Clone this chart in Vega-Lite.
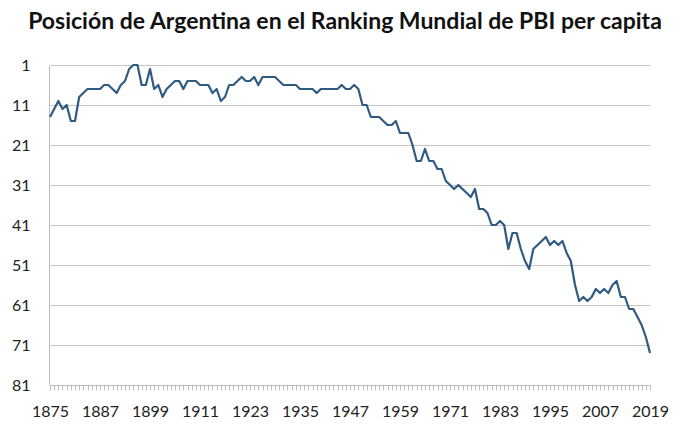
{
  "$schema": "https://vega.github.io/schema/vega-lite/v6.json",
  "autosize": {"type": "none"},
  "width": 602,
  "height": 320,
  "padding": {"left": 49, "top": 65, "right": 38, "bottom": 50},
  "background": "white",
  "title": {
    "text": "Posición de Argentina en el Ranking Mundial de PBI per capita",
    "font": "Lato",
    "fontSize": 23,
    "fontWeight": "bold",
    "color": "#111111",
    "anchor": "middle",
    "frame": "group",
    "offset": 23,
    "dx": -5
  },
  "config": {
    "view": {"stroke": null},
    "axis": {"labelFont": "Lato", "labelFontSize": 16, "labelColor": "#222222"}
  },
  "data": {
    "values": [
      {"year": 1875, "rank": 14}, {"year": 1876, "rank": 12}, {"year": 1877, "rank": 10}, {"year": 1878, "rank": 12},
      {"year": 1879, "rank": 11}, {"year": 1880, "rank": 15}, {"year": 1881, "rank": 15}, {"year": 1882, "rank": 9},
      {"year": 1883, "rank": 8}, {"year": 1884, "rank": 7}, {"year": 1885, "rank": 7}, {"year": 1886, "rank": 7},
      {"year": 1887, "rank": 7}, {"year": 1888, "rank": 6}, {"year": 1889, "rank": 6}, {"year": 1890, "rank": 7},
      {"year": 1891, "rank": 8}, {"year": 1892, "rank": 6}, {"year": 1893, "rank": 5}, {"year": 1894, "rank": 2},
      {"year": 1895, "rank": 1}, {"year": 1896, "rank": 1}, {"year": 1897, "rank": 6}, {"year": 1898, "rank": 6},
      {"year": 1899, "rank": 2}, {"year": 1900, "rank": 7}, {"year": 1901, "rank": 6}, {"year": 1902, "rank": 9},
      {"year": 1903, "rank": 7}, {"year": 1904, "rank": 6}, {"year": 1905, "rank": 5}, {"year": 1906, "rank": 5},
      {"year": 1907, "rank": 7}, {"year": 1908, "rank": 5}, {"year": 1909, "rank": 5}, {"year": 1910, "rank": 5},
      {"year": 1911, "rank": 6}, {"year": 1912, "rank": 6}, {"year": 1913, "rank": 6}, {"year": 1914, "rank": 8},
      {"year": 1915, "rank": 7}, {"year": 1916, "rank": 10}, {"year": 1917, "rank": 9}, {"year": 1918, "rank": 6},
      {"year": 1919, "rank": 6}, {"year": 1920, "rank": 5}, {"year": 1921, "rank": 4}, {"year": 1922, "rank": 5},
      {"year": 1923, "rank": 5}, {"year": 1924, "rank": 4}, {"year": 1925, "rank": 6}, {"year": 1926, "rank": 4},
      {"year": 1927, "rank": 4}, {"year": 1928, "rank": 4}, {"year": 1929, "rank": 4}, {"year": 1930, "rank": 5},
      {"year": 1931, "rank": 6}, {"year": 1932, "rank": 6}, {"year": 1933, "rank": 6}, {"year": 1934, "rank": 6},
      {"year": 1935, "rank": 7}, {"year": 1936, "rank": 7}, {"year": 1937, "rank": 7}, {"year": 1938, "rank": 7},
      {"year": 1939, "rank": 8}, {"year": 1940, "rank": 7}, {"year": 1941, "rank": 7}, {"year": 1942, "rank": 7},
      {"year": 1943, "rank": 7}, {"year": 1944, "rank": 7}, {"year": 1945, "rank": 6}, {"year": 1946, "rank": 7},
      {"year": 1947, "rank": 7}, {"year": 1948, "rank": 6}, {"year": 1949, "rank": 7}, {"year": 1950, "rank": 11},
      {"year": 1951, "rank": 11}, {"year": 1952, "rank": 14}, {"year": 1953, "rank": 14}, {"year": 1954, "rank": 14},
      {"year": 1955, "rank": 15}, {"year": 1956, "rank": 16}, {"year": 1957, "rank": 16}, {"year": 1958, "rank": 15},
      {"year": 1959, "rank": 18}, {"year": 1960, "rank": 18}, {"year": 1961, "rank": 18}, {"year": 1962, "rank": 21},
      {"year": 1963, "rank": 25}, {"year": 1964, "rank": 25}, {"year": 1965, "rank": 22}, {"year": 1966, "rank": 25},
      {"year": 1967, "rank": 25}, {"year": 1968, "rank": 27}, {"year": 1969, "rank": 27}, {"year": 1970, "rank": 30},
      {"year": 1971, "rank": 31}, {"year": 1972, "rank": 32}, {"year": 1973, "rank": 31}, {"year": 1974, "rank": 32},
      {"year": 1975, "rank": 33}, {"year": 1976, "rank": 34}, {"year": 1977, "rank": 32}, {"year": 1978, "rank": 37},
      {"year": 1979, "rank": 37}, {"year": 1980, "rank": 38}, {"year": 1981, "rank": 41}, {"year": 1982, "rank": 41},
      {"year": 1983, "rank": 40}, {"year": 1984, "rank": 41}, {"year": 1985, "rank": 47}, {"year": 1986, "rank": 43},
      {"year": 1987, "rank": 43}, {"year": 1988, "rank": 47}, {"year": 1989, "rank": 50}, {"year": 1990, "rank": 52},
      {"year": 1991, "rank": 47}, {"year": 1992, "rank": 46}, {"year": 1993, "rank": 45}, {"year": 1994, "rank": 44},
      {"year": 1995, "rank": 46}, {"year": 1996, "rank": 45}, {"year": 1997, "rank": 46}, {"year": 1998, "rank": 45},
      {"year": 1999, "rank": 48}, {"year": 2000, "rank": 50}, {"year": 2001, "rank": 56}, {"year": 2002, "rank": 60},
      {"year": 2003, "rank": 59}, {"year": 2004, "rank": 60}, {"year": 2005, "rank": 59}, {"year": 2006, "rank": 57},
      {"year": 2007, "rank": 58}, {"year": 2008, "rank": 57}, {"year": 2009, "rank": 58}, {"year": 2010, "rank": 56},
      {"year": 2011, "rank": 55}, {"year": 2012, "rank": 59}, {"year": 2013, "rank": 59}, {"year": 2014, "rank": 62},
      {"year": 2015, "rank": 62}, {"year": 2016, "rank": 64}, {"year": 2017, "rank": 66}, {"year": 2018, "rank": 69},
      {"year": 2019, "rank": 73}
    ]
  },
  "mark": {"type": "line", "color": "#2f5a82", "strokeWidth": 2.2, "strokeJoin": "round"},
  "encoding": {
    "x": {
      "field": "year",
      "type": "quantitative",
      "scale": {"domain": [1875, 2019], "range": [1, 601], "nice": false, "zero": false},
      "axis": {
        "title": null,
        "grid": false,
        "domainColor": "#bdbdbd",
        "tickColor": "#bdbdbd",
        "tickSize": 5,
        "labelPadding": 13,
        "labelOverlap": false,
        "labelFlush": false,
        "values": [1875,1876,1877,1878,1879,1880,1881,1882,1883,1884,1885,1886,1887,1888,1889,1890,1891,1892,1893,1894,1895,1896,1897,1898,1899,1900,1901,1902,1903,1904,1905,1906,1907,1908,1909,1910,1911,1912,1913,1914,1915,1916,1917,1918,1919,1920,1921,1922,1923,1924,1925,1926,1927,1928,1929,1930,1931,1932,1933,1934,1935,1936,1937,1938,1939,1940,1941,1942,1943,1944,1945,1946,1947,1948,1949,1950,1951,1952,1953,1954,1955,1956,1957,1958,1959,1960,1961,1962,1963,1964,1965,1966,1967,1968,1969,1970,1971,1972,1973,1974,1975,1976,1977,1978,1979,1980,1981,1982,1983,1984,1985,1986,1987,1988,1989,1990,1991,1992,1993,1994,1995,1996,1997,1998,1999,2000,2001,2002,2003,2004,2005,2006,2007,2008,2009,2010,2011,2012,2013,2014,2015,2016,2017,2018,2019],
        "labelExpr": "(datum.value - 1875) % 12 == 0 ? '' + datum.value : ''"
      }
    },
    "y": {
      "field": "rank",
      "type": "quantitative",
      "scale": {"domain": [1, 81], "reverse": true, "nice": false, "zero": false},
      "axis": {
        "title": null,
        "values": [1, 11, 21, 31, 41, 51, 61, 71, 81],
        "grid": true,
        "gridColor": "#c4c4c4",
        "gridWidth": 1,
        "domainColor": "#bdbdbd",
        "ticks": false,
        "labelPadding": 19
      }
    }
  }
}
